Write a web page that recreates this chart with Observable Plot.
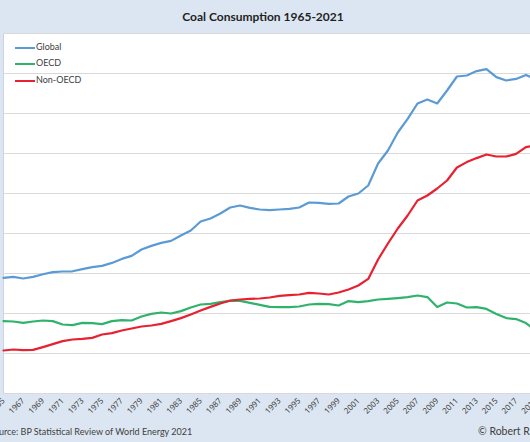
<!DOCTYPE html>
<html><head><meta charset="utf-8">
<script src="https://cdn.jsdelivr.net/npm/d3@7"></script>
<script src="https://cdn.jsdelivr.net/npm/@observablehq/plot@0.6"></script>
<style>
html,body{margin:0;padding:0;width:530px;height:442px;overflow:hidden;background:#dce6f2;font-family:Lato,"Open Sans",sans-serif;position:relative;}
#title{position:absolute;left:0;top:0;width:526px;height:33px;line-height:33px;text-align:center;font-weight:bold;font-size:12px;color:#1f1f1f;}
#chart{position:absolute;left:0;top:33px;width:560px;}
.leg{position:absolute;left:15px;font-size:9px;color:#404040;line-height:12px;white-space:nowrap;}
.leg span{display:inline-block;width:20px;height:2px;vertical-align:middle;margin-right:1px;}
.foot{position:absolute;top:425px;font-size:9px;color:#404040;white-space:nowrap;line-height:14px;}
</style>
</head><body>
<div id="title">Coal Consumption 1965-2021</div>
<div id="chart"></div>
<div class="leg" style="top:41px"><span style="background:#5b9bd5"></span>Global</div>
<div class="leg" style="top:57px"><span style="background:#2fb36a"></span>OECD</div>
<div class="leg" style="top:74px"><span style="background:#e8202f"></span>Non-OECD</div>
<div class="foot" style="left:-11px">Source: BP Statistical Review of World Energy 2021</div>
<div class="foot" style="left:478px;font-size:10.5px;top:424px">© Robert Rapier</div>
<script>
const years = [1965,1966,1967,1968,1969,1970,1971,1972,1973,1974,1975,1976,1977,1978,1979,1980,1981,1982,1983,1984,1985,1986,1987,1988,1989,1990,1991,1992,1993,1994,1995,1996,1997,1998,1999,2000,2001,2002,2003,2004,2005,2006,2007,2008,2009,2010,2011,2012,2013,2014,2015,2016,2017,2018,2019,2020,2021];
const globalVals = [57.8,58.3,57.5,58.3,59.6,60.7,61,61.1,62.2,63.2,63.8,65.3,67.3,68.8,72,73.8,75.3,76.3,79,81.5,86,87.5,90,93,94,92.8,92,91.7,92,92.3,93,95.5,95.3,94.8,95,98.5,100,104,115,121.5,130.5,137.3,145,147,145,151.5,158.5,159,161.2,162.2,158.2,156.5,157.3,159.3,157,151,160];
const oecdVals = [36.2,36,35.3,36,36.5,36.2,34.5,34.2,35.3,35.2,34.7,36.2,36.7,36.5,38.5,39.8,40.5,40,41.2,43,44.5,44.8,45.7,46.3,46.3,45.3,44.3,43.3,43.2,43.2,43.5,44.5,44.8,44.7,44,46.2,45.7,46.2,47,47.3,47.7,48.2,49,48.2,43.2,45.5,45,43,43.2,42.3,39.8,37.7,37.2,35.2,31.5,28,30];
const nonOecdVals = [21.5,22,21.7,21.8,23.2,24.7,26.2,27,27.3,27.8,29.5,30.2,31.5,32.5,33.5,34,34.8,36.2,37.7,39.5,41.5,43.3,45,46.5,47,47.3,47.5,48,48.8,49.2,49.5,50.3,50,49.5,50.5,52,54,57.3,67,75,82.5,89,96.5,99,102.5,106.5,113,115.7,117.7,119.5,118.5,118.5,119.8,123.2,124,123,130];
const seriesNames = ["Global","OECD","Non-OECD"];
const seriesColors = ["#5b9bd5","#2fb36a","#e8202f"];
const tickYears = [1965,1967,1969,1971,1973,1975,1977,1979,1981,1983,1985,1987,1989,1991,1993,1995,1997,1999,2001,2003,2005,2007,2009,2011,2013,2015,2017,2019,2021];
const yTicks = [0,20,40,60,80,100,120,140,160,180];

const rows = [];
[globalVals, oecdVals, nonOecdVals].forEach((vals, i) => {
  vals.forEach((v, j) => rows.push({series: seriesNames[i], year: years[j], value: v}));
});

const chart = Plot.plot({
  width: 560,
  height: 390,
  marginLeft: 3,
  marginRight: 5,
  marginTop: 0,
  marginBottom: 30,
  style: {background: "transparent", maxWidth: "none", overflow: "visible"},
  x: {domain: [1965, 2021], label: null},
  y: {domain: [0, 180], axis: null, label: null},
  color: {domain: seriesNames, range: seriesColors},
  marks: [
    Plot.frame({fill: "white", stroke: "#c9d5e3"}),
    Plot.gridY(yTicks, {stroke: "#d9d9d9", strokeOpacity: 1}),
    Plot.axisX(tickYears, {tickSize: 0, tickPadding: 6, tickRotate: -45, tickFormat: d => String(d), fontSize: 8, fill: "#404040", label: null}),
    Plot.line(rows, {x: "year", y: "value", z: "series", stroke: "series", strokeWidth: 2.2, curve: "linear"})
  ]
});
document.getElementById("chart").appendChild(chart);
</script>
</body></html>
